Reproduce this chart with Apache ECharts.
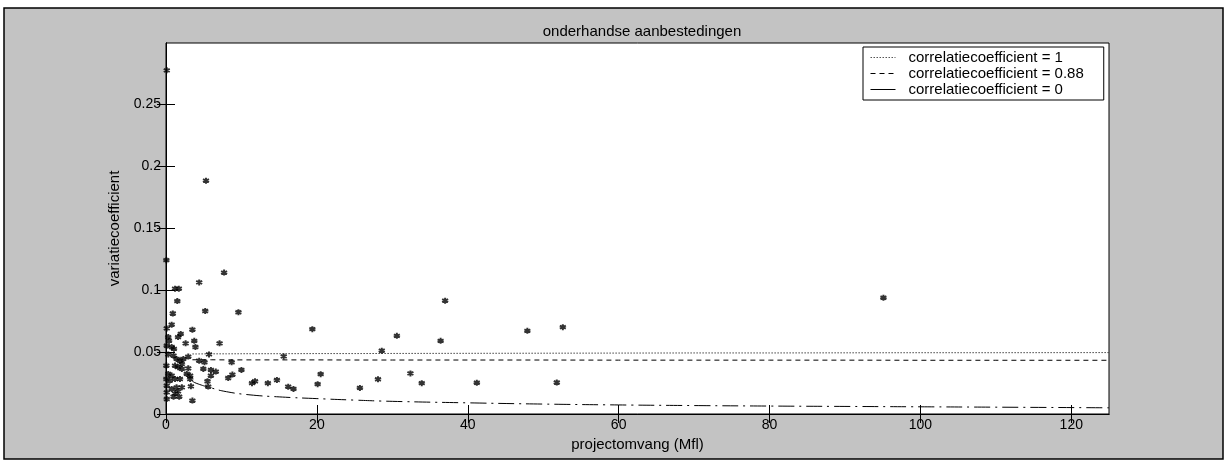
<!DOCTYPE html>
<html>
<head>
<meta charset="utf-8">
<script src="https://cdn.jsdelivr.net/npm/echarts@6/dist/echarts.min.js"></script>
<style>
  html, body { margin: 0; padding: 0; background: #fff; }
  #container { width: 1227px; height: 463px; }
</style>
</head>
<body>
<div id="container"></div>
<script>
// projectomvang (Mfl) vs variatiecoefficient
var projectSize = [
    0.1, 0.05, 5.3, 7.7, 4.4, 1.2, 1.7, 1.5, 5.2, 9.6,
    0.9, 0.75, 0.1, 3.5, 1.95, 1.6, 0.3, 0.4, 3.75, 2.6,
    7.1, 3.9, 0.75, 1.05, 0.1, 0.3, 1.0, 5.7, 2.95, 1.4,
    1.85, 2.3, 4.4, 5.1, 8.7, 0.05, 1.2, 2.1, 2.1, 1.6,
    2.95, 4.95, 5.95, 6.6, 10, 0.3, 0.75, 2.75, 3.2, 5.95,
    8.8, 8.25, 0.05, 0.5, 1.2, 1.85, 3.2, 5.5, 11.4, 11.8,
    13.5, 14.7, 0.1, 0.75, 1.4, 2.1, 3.3, 5.6, 0.1, 1.2,
    1.6, 1.0, 1.75, 0.1, 3.5, 37, 19.4, 30.6, 36.4, 47.9,
    52.6, 28.6, 15.6, 16.2, 16.9, 20.5, 20.1, 25.7, 28.1, 32.4,
    33.9, 41.2, 51.8, 95.1
];
var variation = [
    0.277, 0.124, 0.188, 0.114, 0.106, 0.101, 0.101, 0.091, 0.083, 0.082,
    0.081, 0.072, 0.069, 0.068, 0.0645, 0.062, 0.062, 0.059, 0.059, 0.057,
    0.057, 0.054, 0.054, 0.0525, 0.055, 0.048, 0.047, 0.048, 0.0463, 0.0444,
    0.043, 0.0444, 0.043, 0.0417, 0.0417, 0.039, 0.039, 0.0403, 0.0363, 0.0377,
    0.0368, 0.0363, 0.0355, 0.0342, 0.0355, 0.0323, 0.031, 0.0323, 0.031, 0.031,
    0.0318, 0.029, 0.0282, 0.0269, 0.0282, 0.0282, 0.0282, 0.0264, 0.0248, 0.0264,
    0.0248, 0.0274, 0.0229, 0.0202, 0.0215, 0.0215, 0.0223, 0.0221, 0.0175, 0.0167,
    0.0183, 0.014, 0.014, 0.0121, 0.0108, 0.0913, 0.0684, 0.063, 0.059, 0.067,
    0.070, 0.051, 0.0464, 0.022, 0.0202, 0.0321, 0.024, 0.021, 0.028, 0.0327,
    0.0248, 0.0252, 0.0254, 0.0937
];

// model curves
var curveX = [3.5, 4, 6, 8, 11, 15, 20, 25, 30, 40, 50, 60, 70, 80, 90, 100, 110, 125];
var corr1 = [0.0484, 0.0484, 0.0485, 0.0485, 0.0486, 0.0486, 0.0487, 0.0487, 0.0488, 0.0489, 0.049, 0.0491, 0.0492, 0.0492, 0.0493, 0.0494, 0.0494, 0.0495];
var corr088 = [0.0437, 0.0437, 0.0437, 0.0436, 0.0436, 0.0436, 0.0436, 0.0435, 0.0435, 0.0435, 0.0435, 0.0434, 0.0434, 0.0434, 0.0434, 0.0433, 0.0433, 0.0433];
var corr0 = [0.0265, 0.0248, 0.021, 0.018, 0.0155, 0.0138, 0.0124, 0.0112, 0.0102, 0.009, 0.008, 0.0073, 0.0068, 0.0064, 0.0061, 0.0058, 0.0055, 0.005];

var xTicks = [0, 20, 40, 60, 80, 100, 120];
var yTicks = [0, 0.05, 0.1, 0.15, 0.2, 0.25];

var FONT = '"Liberation Sans", Arial, sans-serif';
var grey = '#c3c3c3';
var names = ['correlatiecoefficient = 1', 'correlatiecoefficient = 0.88', 'correlatiecoefficient = 0'];

function pairs(xs, ys) {
    var res = [];
    for (var i = 0; i < xs.length; i++) res.push([xs[i], ys[i]]);
    return res;
}

var dom = document.getElementById('container');
var myChart = echarts.init(dom);

function ticks(vals) {
    return { inside: true, length: 9, customValues: vals, lineStyle: { color: '#000', width: 1 } };
}

var option = {
    backgroundColor: grey,
    animation: false,
    title: {
        text: 'onderhandse aanbestedingen',
        left: 637, top: 19,
        textAlign: 'center',
        textStyle: { fontFamily: FONT, fontSize: 15, fontWeight: 'normal', color: '#000' }
    },
    legend: {
        orient: 'vertical',
        left: 863, top: 47,
        padding: [3, 20, 3, 7],
        itemGap: 1,
        itemWidth: 25, itemHeight: 14,
        backgroundColor: '#fff',
        borderColor: '#000', borderWidth: 1,
        itemStyle: { opacity: 0 },
        textStyle: { fontFamily: FONT, fontSize: 15, color: '#000', padding: [0, 0, 0, 8] },
        data: [
            { name: names[0], lineStyle: { width: 1, color: '#555', type: [1.5, 1.5] } },
            { name: names[1], lineStyle: { width: 1, color: '#000', type: [5, 4] } },
            { name: names[2], lineStyle: { width: 1, color: '#000', type: 'solid' } }
        ]
    },
    grid: {
        left: 166, top: 43, right: 118, bottom: 49,
        show: true, backgroundColor: '#fff', borderColor: '#000', borderWidth: 1
    },
    xAxis: [{
        type: 'value', min: 0, max: 125, interval: 20,
        name: 'projectomvang (Mfl)', nameLocation: 'middle', nameGap: 23,
        nameTextStyle: { fontFamily: FONT, fontSize: 15, color: '#000' },
        axisLine: { lineStyle: { color: '#000' } },
        axisTick: ticks(xTicks),
        axisLabel: {
            fontFamily: FONT, fontSize: 14, color: '#000', margin: 4,
            customValues: xTicks
        },
        splitLine: { show: false }
    }, {
        type: 'value', position: 'top', min: 0, max: 125, interval: 20,
        axisLine: { show: true, lineStyle: { color: '#000' } },
        axisTick: ticks(xTicks),
        axisLabel: { show: false },
        splitLine: { show: false }
    }],
    yAxis: [{
        type: 'value', min: 0, max: 0.299, interval: 0.05,
        name: 'variatiecoefficient', nameLocation: 'middle', nameGap: 40,
        nameTextStyle: { fontFamily: FONT, fontSize: 15, color: '#000' },
        axisLine: { show: true, lineStyle: { color: '#000' } },
        axisTick: ticks(yTicks),
        axisLabel: {
            fontFamily: FONT, fontSize: 14, color: '#000', margin: 5,
            customValues: yTicks
        },
        splitLine: { show: false }
    }, {
        type: 'value', position: 'right', min: 0, max: 0.299, interval: 0.05,
        axisLine: { show: true, lineStyle: { color: '#000' } },
        axisTick: ticks(yTicks),
        axisLabel: { show: false },
        splitLine: { show: false }
    }],
    graphic: [
        // white margin outside the figure frame, then the frame itself
        { type: 'rect', shape: { x: 0, y: 0, width: 1227, height: 8 }, style: { fill: '#fff' }, silent: true },
        { type: 'rect', shape: { x: 0, y: 0, width: 4, height: 463 }, style: { fill: '#fff' }, silent: true },
        { type: 'rect', shape: { x: 1223, y: 0, width: 4, height: 463 }, style: { fill: '#fff' }, silent: true },
        { type: 'rect', shape: { x: 0, y: 459, width: 1227, height: 4 }, style: { fill: '#fff' }, silent: true },
        { type: 'rect', shape: { x: 4, y: 8, width: 1219, height: 451 },
          style: { fill: null, stroke: '#000', lineWidth: 1.5 }, silent: true }
    ],
    series: [
        {
            name: 'punten',
            type: 'scatter',
            symbol: 'path://M5,0L5,10M0.7,2.5L9.3,7.5M0.7,7.5L9.3,2.5',
            symbolSize: 6,
            itemStyle: { color: '#000', borderColor: '#000', borderWidth: 2 },
            data: pairs(projectSize, variation),
            z: 3
        },
        {
            name: names[0], type: 'line', symbol: 'none', showSymbol: false,
            itemStyle: { color: '#444' },
            lineStyle: { color: '#444', width: 1, type: [1.5, 1.5] },
            data: pairs(curveX, corr1)
        },
        {
            name: names[1], type: 'line', symbol: 'none', showSymbol: false,
            itemStyle: { color: '#000' },
            lineStyle: { color: '#000', width: 1, type: [5, 4] },
            data: pairs(curveX, corr088)
        },
        {
            name: names[2], type: 'line', symbol: 'none', showSymbol: false, smooth: true,
            itemStyle: { color: '#000' },
            lineStyle: { color: '#000', width: 1, type: [16, 5, 2, 5] },
            data: pairs(curveX, corr0)
        }
    ]
};
myChart.setOption(option);
</script>
</body>
</html>
